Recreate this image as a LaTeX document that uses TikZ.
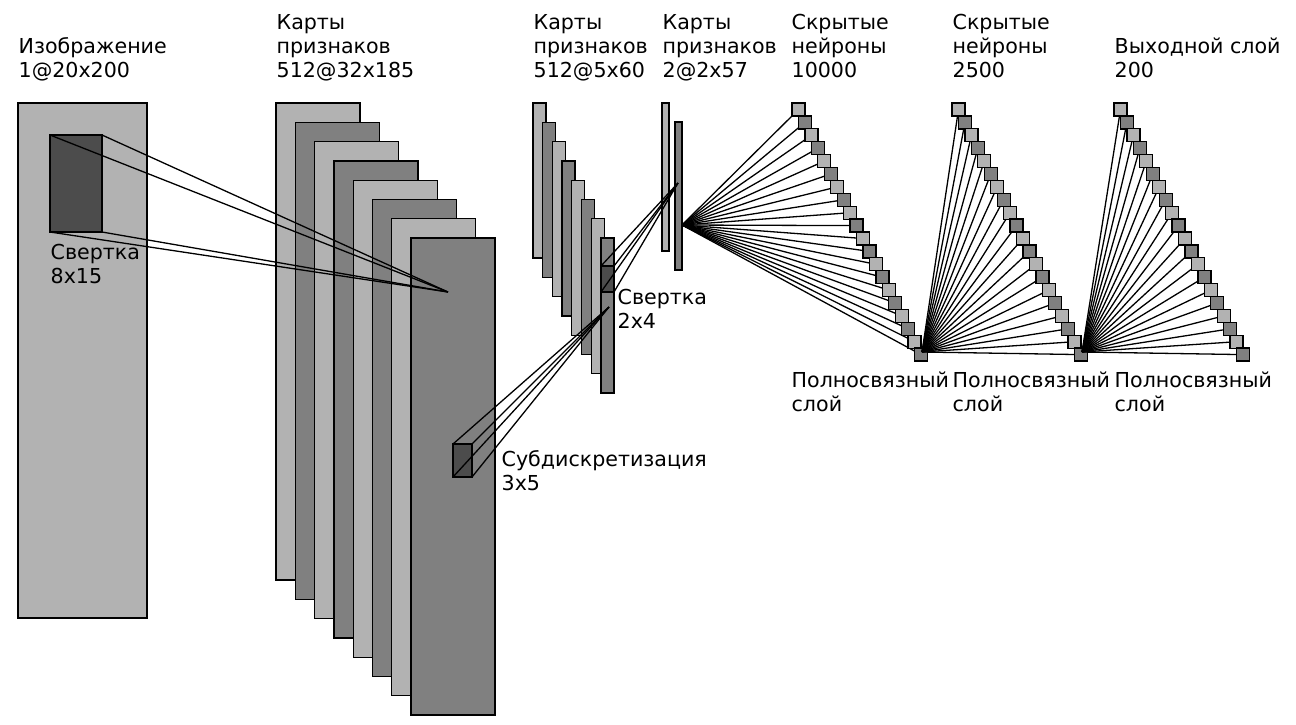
\documentclass[tikz,border=0pt]{standalone}
\usepackage{fontspec}
\setmainfont{DejaVu Sans}
\definecolor{litemap}{gray}{0.7}
\definecolor{darkmap}{gray}{0.5}
\definecolor{patchc}{gray}{0.3}

\begin{document}
\begin{tikzpicture}[x=0.5pt,y=-0.5pt,line width=0.65pt,
  lbl/.style={anchor=base west,align=left,inner sep=0pt,font=\fontsize{10.3}{12}\selectfont}]
\useasboundingbox (0,0) rectangle (1296,724);

% input image
\filldraw[fill=litemap] (18,103) rectangle (147,618);
\filldraw[fill=patchc] (50,135) rectangle (102,232);

% feature maps 512@32x185
\foreach \i/\c in {0/litemap,1/darkmap,2/litemap,3/darkmap,4/litemap,5/darkmap,6/litemap,7/darkmap}
	\filldraw[fill=\c] (276+19.29*\i, 103+19.29*\i) rectangle +(84,477);
\coordinate (c1) at (448,292);
\foreach \p in {(50,135),(102,135),(50,232),(102,232)}
	\draw \p -- (c1);
\filldraw[fill=patchc] (453,444) rectangle (472,477);

% feature maps 512@5x60
\foreach \i/\c in {0/litemap,1/darkmap,2/litemap,3/darkmap,4/litemap,5/darkmap,6/litemap,7/darkmap}
	\filldraw[fill=\c] (533+9.71*\i, 103+19.29*\i) rectangle +(13,155);
\coordinate (c2) at (609,307);
\foreach \p in {(453,444),(472,444),(453,477),(472,477)}
	\draw \p -- (c2);
\filldraw[fill=patchc] (601,266) rectangle (614,292);

% feature maps 2@2x57
\filldraw[fill=litemap] (662,103) rectangle (669,251);
\filldraw[fill=darkmap] (675,122) rectangle (682,270);
\coordinate (c3) at (678,183);
\foreach \p in {(601,266),(614,266),(601,292),(614,292)}
	\draw \p -- (c3);

% hidden neurons and output
\coordinate (c4) at (682,225);
\coordinate (c5) at (922,352);
\coordinate (c6) at (1082,352);
\foreach \s/\x in {c4/792,c5/952,c6/1114} {
	\foreach \i in {0,...,19}
		\draw (\s) -- (\x+6.45*\i+6.5, 109.5+12.9*\i);
	\foreach \i in {0,...,19} {
		\ifodd\i \def\c{darkmap}\else \def\c{litemap}\fi
		\filldraw[fill=\c] (\x+6.45*\i, 103+12.9*\i) rectangle +(13,13);
	}
}

% labels
\node[lbl] (limg) at (18,77) {Изображение\\1@20x200};
\node[lbl] (lfm1) at (276,77) {Карты\\признаков\\512@32x185};
\node[lbl] (lfm2) at (533,77) {Карты\\признаков\\512@5x60};
\node[lbl] (lfm3) at (662,77) {Карты\\признаков\\2@2x57};
\node[lbl] (lhid1) at (791,77) {Скрытые\\нейроны\\10000};
\node[lbl] (lhid2) at (952,77) {Скрытые\\нейроны\\2500};
\node[lbl] (lout) at (1114,77) {Выходной слой\\200};
\node[lbl] (lconv1) at (50,283) {Свертка\\8x15};
\node[lbl] (lpool) at (501,490) {Субдискретизация\\3x5};
\node[lbl] (lconv2) at (617,328) {Свертка\\2x4};
\foreach \x in {791,952,1114}
	\node[lbl] at (\x,411) {Полносвязный\\слой};
\end{tikzpicture}
\end{document}
